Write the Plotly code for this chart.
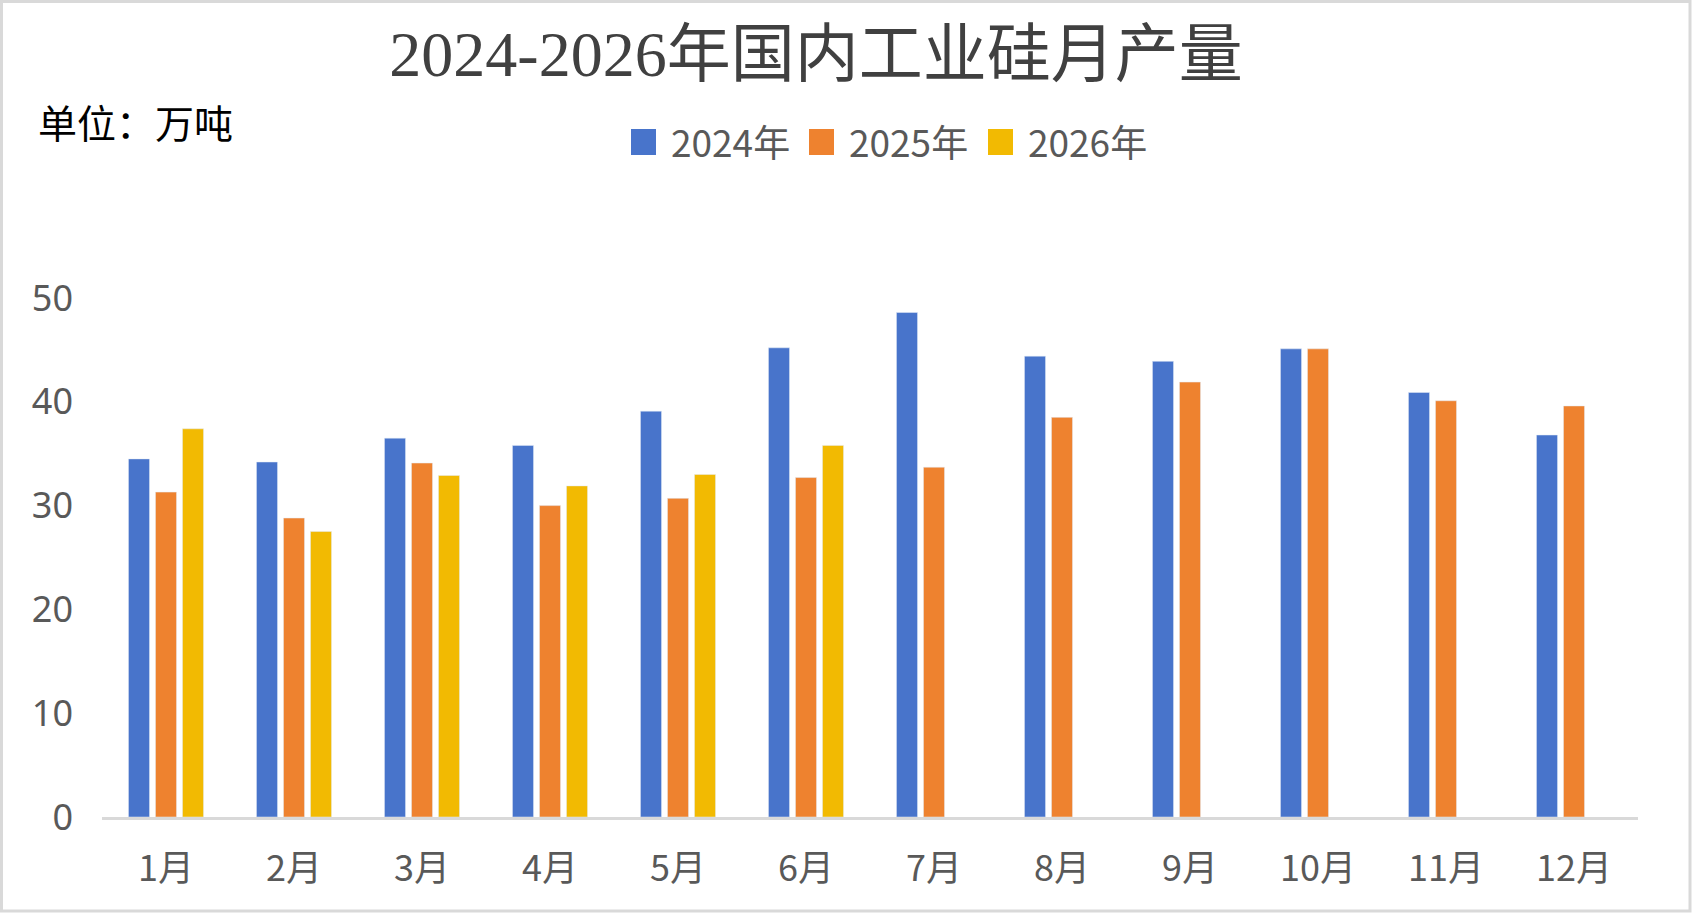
import plotly.graph_objects as go

# 月份与产量（万吨）
months = ["1月", "2月", "3月", "4月", "5月", "6月",
          "7月", "8月", "9月", "10月", "11月", "12月"]
out_2024 = [34.5, 34.2, 36.5, 35.8, 39.1, 45.2, 48.6, 44.4, 43.9, 45.1, 40.9, 36.8]
out_2025 = [31.3, 28.8, 34.1, 30.0, 30.7, 32.7, 33.7, 38.5, 41.9, 45.1, 40.1, 39.6]
out_2026 = [37.4, 27.5, 32.9, 31.9, 33.0, 35.8, None, None, None, None, None, None]
y_ticks = [0, 10, 20, 30, 40, 50]

series = [
    ("2024年", out_2024, "#4874CB"),
    ("2025年", out_2025, "#EE822F"),
    ("2026年", out_2026, "#F2BA02"),
]

W, H = 1693, 914
ML, MR, MT, MB = 102, 55, 298, 97

def px_x(p):
    return (p - ML) / (W - ML - MR)

def px_y(p):
    return (H - MB - p) / (H - MT - MB)

fig = go.Figure()
for name, vals, col in series:
    fig.add_trace(go.Bar(x=months, y=vals, name=name, marker_color=col, showlegend=False))

# legend drawn by hand so the keys can be as big as in the original
shapes = [dict(
    type="rect", xref="paper", yref="paper",
    x0=px_x(1.5), x1=px_x(W - 3), y0=px_y(H - 3), y1=px_y(1.5),
    line=dict(color="#D9D9D9", width=3), fillcolor="rgba(0,0,0,0)", layer="below",
)]
annotations = [dict(
    text="单位：万吨", xref="paper", yref="paper",
    x=px_x(36), xanchor="left", y=px_y(121), yanchor="middle",
    showarrow=False, font=dict(family="Noto Sans CJK SC", size=39, color="#000000"),
)]
key_x = [631, 809, 988]
for (name, vals, col), kx in zip(series, key_x):
    shapes.append(dict(
        type="rect", xref="paper", yref="paper",
        x0=px_x(kx), x1=px_x(kx + 25), y0=px_y(155), y1=px_y(129),
        line=dict(width=0), fillcolor=col,
    ))
    annotations.append(dict(
        text=name, xref="paper", yref="paper",
        x=px_x(kx + 38), xanchor="left", y=px_y(141), yanchor="middle",
        showarrow=False, font=dict(family="Noto Sans CJK SC", size=37, color="#595959"),
    ))

fig.update_layout(
    width=W, height=H,
    margin=dict(l=ML, r=MR, t=MT, b=MB),
    paper_bgcolor="white", plot_bgcolor="white",
    barmode="group", bargap=0.367, bargroupgap=0.22,
    title=dict(
        text="2024-2026年国内工业硅月产量",
        x=816 / W, xanchor="center", y=1 - 54 / H, yanchor="middle",
        font=dict(family="Liberation Serif, Noto Sans CJK SC", size=64, color="#404040"),
    ),
    hovermode=False,
    annotations=annotations,
    shapes=shapes,
)
fig.update_xaxes(
    showline=True, linecolor="#D9D9D9", linewidth=3, showgrid=False,
    ticks="", ticklabelstandoff=18,
    tickfont=dict(family="Noto Sans CJK SC", size=36, color="#595959"),
)
fig.update_yaxes(
    range=[0, 50], tickvals=y_ticks, showgrid=False, zeroline=False, showline=False,
    ticks="", ticklabelstandoff=28,
    tickfont=dict(family="Noto Sans", size=36, color="#595959"),
)

fig.write_html("out.html", config={"displayModeBar": False},
               post_script="document.body.style.margin='0';")
